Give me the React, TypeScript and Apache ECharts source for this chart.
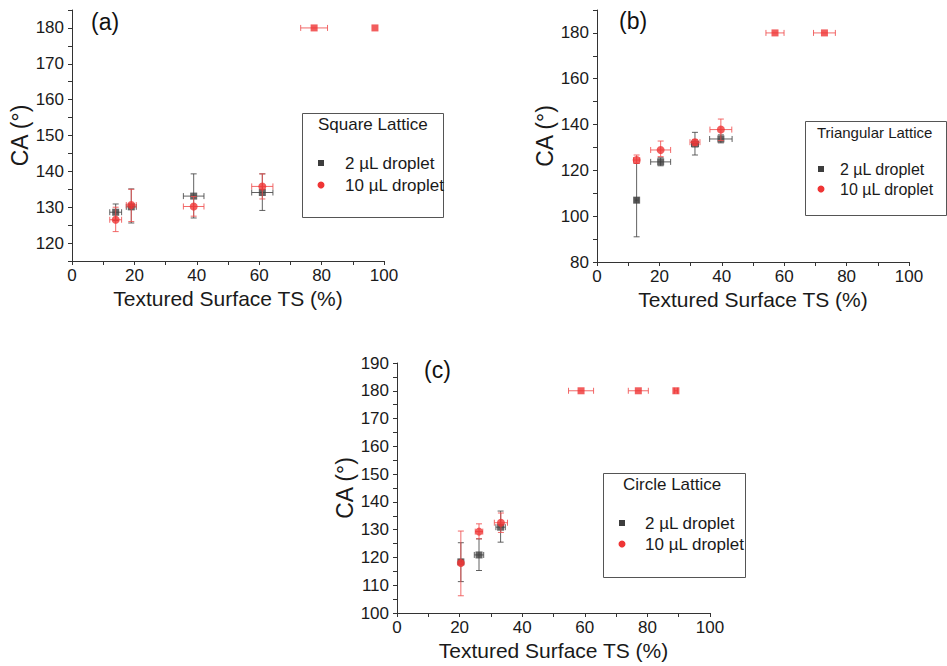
import React, { useEffect, useRef } from 'react';
import * as echarts from 'echarts';

// [x, y, yLow, yHigh, xErr]
const squareLattice2uL = [
  [14, 128.6, 126.3, 130.9, 1.9],
  [19, 130.1, 125.6, 135.1, 1.6],
  [39, 133.1, 127.0, 139.3, 3.3],
  [61, 134.1, 129.1, 139.3, 3.4],
];
const squareLattice10uL = [
  [14, 126.5, 123.2, 130.0, 1.9],
  [19, 130.6, 126.0, 135.0, 1.6],
  [39, 130.2, 127.5, 133.0, 3.3],
  [61, 135.8, 132.3, 139.3, 3.4],
  [77.6, 180, 180, 180, 4.3],
  [97.1, 180, 180, 180, 0],
];
const triangularLattice2uL = [
  [12.7, 107, 91, 123, 0.5],
  [20.4, 123.7, 122, 125.5, 3.2],
  [31.4, 131.5, 126.7, 136.6, 1.1],
  [39.7, 133.7, 132, 135.5, 3.6],
];
const triangularLattice10uL = [
  [12.7, 124.5, 123, 126.7, 1],
  [20.4, 128.9, 126, 132.8, 3.2],
  [31.4, 132.3, 131, 133.5, 1.6],
  [39.7, 137.8, 133, 142.4, 3.5],
  [57.05, 180, 180, 180, 2.9],
  [72.9, 180, 180, 180, 3.5],
];
const circleLattice2uL = [
  [20.4, 118.4, 111.3, 125.3, 0.5],
  [26.2, 120.9, 115.3, 126.7, 1.5],
  [33.1, 130.9, 125.5, 136.7, 1.5],
];
const circleLattice10uL = [
  [20.4, 118.0, 106.2, 129.5, 0.5],
  [26.2, 129.3, 126.7, 132.1, 1.2],
  [33.2, 132.5, 129, 136, 2.1],
  [58.8, 180, 180, 180, 4],
  [77.1, 180, 180, 180, 3.2],
  [89.1, 180, 180, 180, 0.5],
];

const panelLabels = ['(a)', '(b)', '(c)'];
const legendTitles = ['Square Lattice', 'Triangular Lattice', 'Circle Lattice'];
const seriesNames = ['2 µL droplet', '10 µL droplet'];
const xTitle = 'Textured Surface TS (%)';
const yTitle = 'CA (°)';

const FONT = '"Liberation Sans", Arial, Helvetica, sans-serif';
const DARK = '#3d3d3d';
const DARK_ERR = 'rgba(70,70,70,0.85)';
const RED = '#ef3535';
const RED_ERR = 'rgba(240,80,80,0.85)';

const panels = [
  { grid: { left: 72, top: 10, width: 312, height: 251 }, ymin: 115, ymax: 185, yint: 5, yEvery: 10, d2: squareLattice2uL, d10: squareLattice10uL,
    label: { x: 91, y: 23 }, legend: { x: 302, y: 113, w: 141, h: 104, tx: 318, ty: 124, tf: 17, mx: 321, ix: 345, iy1: 163, iy2: 185, f: 17 } },
  { grid: { left: 597, top: 10, width: 312, height: 252 }, ymin: 80, ymax: 190, yint: 10, yEvery: 20, d2: triangularLattice2uL, d10: triangularLattice10uL,
    label: { x: 619, y: 22 }, legend: { x: 805, y: 121, w: 141, h: 94, tx: 817, ty: 132, tf: 15, mx: 821, ix: 840, iy1: 169, iy2: 189, f: 16 } },
  { grid: { left: 397, top: 363, width: 313, height: 250 }, ymin: 100, ymax: 190, yint: 5, yEvery: 10, d2: circleLattice2uL, d10: circleLattice10uL,
    label: { x: 424, y: 371 }, legend: { x: 603, y: 473, w: 142, h: 104, tx: 623, ty: 484, tf: 17, mx: 622, ix: 645, iy1: 523, iy2: 544, f: 17 } },
];

function errRender(color: string) {
  return (params: any, api: any) => {
    const x = api.value(0), y = api.value(1), lo = api.value(2), hi = api.value(3), xe = api.value(4);
    const children: any[] = [];
    const style = { stroke: color, lineWidth: 1 };
    const cap = 3;
    if (hi > lo) {
      const a = api.coord([x, lo]);
      const b = api.coord([x, hi]);
      children.push({ type: 'line', shape: { x1: a[0], y1: a[1], x2: b[0], y2: b[1] }, style });
      children.push({ type: 'line', shape: { x1: a[0] - cap, y1: a[1], x2: a[0] + cap, y2: a[1] }, style });
      children.push({ type: 'line', shape: { x1: b[0] - cap, y1: b[1], x2: b[0] + cap, y2: b[1] }, style });
    }
    if (xe > 0) {
      const l = api.coord([x - xe, y]);
      const r = api.coord([x + xe, y]);
      children.push({ type: 'line', shape: { x1: l[0], y1: l[1], x2: r[0], y2: r[1] }, style });
      children.push({ type: 'line', shape: { x1: l[0], y1: l[1] - cap, x2: l[0], y2: l[1] + cap }, style });
      children.push({ type: 'line', shape: { x1: r[0], y1: r[1] - cap, x2: r[0], y2: r[1] + cap }, style });
    }
    return { type: 'group', children };
  };
}

function buildOption() {
  const grid: any[] = [];
  const xAxis: any[] = [];
  const yAxis: any[] = [];
  const series: any[] = [];
  const graphic: any[] = [];
  const axisLine = { lineStyle: { color: '#333', width: 1 } };
  const axisLabel = { color: '#1a1a1a', fontFamily: FONT, fontSize: 17 };
  panels.forEach((p, i) => {
    grid.push({ ...p.grid, containLabel: false });
    xAxis.push({
      type: 'value', gridIndex: i, min: 0, max: 100, interval: 10,
      name: xTitle, nameLocation: 'middle', nameGap: 27,
      nameTextStyle: { fontFamily: FONT, fontSize: 21, color: '#1a1a1a' },
      axisLine: { show: true, onZero: false, ...axisLine },
      axisTick: { show: true, length: 4, lineStyle: { color: '#333' } },
      axisLabel: { ...axisLabel, margin: 6, formatter: (v: number) => (v % 20 === 0 ? String(v) : '') },
      splitLine: { show: false },
    });
    yAxis.push({
      type: 'value', gridIndex: i, min: p.ymin, max: p.ymax, interval: p.yint,
      name: yTitle, nameLocation: 'middle', nameGap: 38, nameRotate: 90,
      nameTextStyle: { fontFamily: FONT, fontSize: 23, color: '#1a1a1a' },
      axisLine: { show: true, onZero: false, ...axisLine },
      axisTick: { show: true, length: 4, lineStyle: { color: '#333' } },
      axisLabel: { ...axisLabel, margin: 8, formatter: (v: number) => (v % p.yEvery === 0 ? String(v) : '') },
      splitLine: { show: false },
    });
    const toScatter = (d: number[][]) =>
      d.map((r) => (r[1] >= 180 ? { value: [r[0], r[1]], symbol: 'rect', symbolSize: 7 } : { value: [r[0], r[1]] }));
    series.push({
      type: 'custom', name: seriesNames[0], xAxisIndex: i, yAxisIndex: i, renderItem: errRender(DARK_ERR),
      data: p.d2, encode: { x: 0, y: 1 }, z: 2,
    });
    series.push({
      type: 'scatter', name: seriesNames[0], xAxisIndex: i, yAxisIndex: i, symbol: 'rect', symbolSize: 7,
      itemStyle: { color: DARK }, data: toScatter(p.d2), z: 3,
    });
    series.push({
      type: 'custom', name: seriesNames[1], xAxisIndex: i, yAxisIndex: i, renderItem: errRender(RED_ERR),
      data: p.d10, encode: { x: 0, y: 1 }, z: 4,
    });
    series.push({
      type: 'scatter', name: seriesNames[1], xAxisIndex: i, yAxisIndex: i, symbol: 'circle', symbolSize: 8,
      itemStyle: { color: RED }, data: toScatter(p.d10), z: 5,
    });
    graphic.push({
      type: 'text', left: p.label.x, top: p.label.y - 13,
      style: { text: panelLabels[i], font: `23px ${FONT}`, fill: '#111' },
    });
    const L = p.legend;
    graphic.push({
      type: 'rect', shape: { x: L.x + 0.5, y: L.y + 0.5, width: L.w, height: L.h },
      style: { fill: '#fff', stroke: '#555', lineWidth: 1 }, z: 10,
    });
    graphic.push({
      type: 'text', x: L.tx, y: L.ty, z: 11,
      style: { text: legendTitles[i], font: `${L.tf}px ${FONT}`, fill: '#1a1a1a', verticalAlign: 'middle' },
    });
    graphic.push({ type: 'rect', shape: { x: L.mx - 3, y: L.iy1 - 3, width: 6, height: 6 }, style: { fill: DARK }, z: 11 });
    graphic.push({ type: 'circle', shape: { cx: L.mx, cy: L.iy2, r: 3.5 }, style: { fill: RED }, z: 11 });
    graphic.push({
      type: 'text', x: L.ix, y: L.iy1, z: 11,
      style: { text: seriesNames[0], font: `${L.f}px ${FONT}`, fill: '#1a1a1a', verticalAlign: 'middle' },
    });
    graphic.push({
      type: 'text', x: L.ix, y: L.iy2, z: 11,
      style: { text: seriesNames[1], font: `${L.f}px ${FONT}`, fill: '#1a1a1a', verticalAlign: 'middle' },
    });
  });
  return { animation: false, backgroundColor: '#fff', grid, xAxis, yAxis, series, graphic };
}

export default function App() {
  const ref = useRef<HTMLDivElement>(null);
  useEffect(() => {
    const chart = echarts.init(ref.current as HTMLDivElement, null, { renderer: 'svg' });
    chart.setOption(buildOption() as any);
    return () => chart.dispose();
  }, []);
  return <div ref={ref} style={{ position: 'absolute', left: 0, top: 0, width: 947, height: 666 }} />;
}
